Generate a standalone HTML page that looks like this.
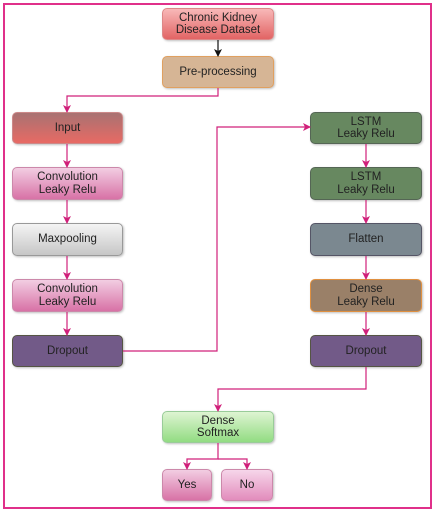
<!DOCTYPE html><html><head><style>
body{margin:0;width:433px;height:511px;background:#fff;position:relative;font-family:"Liberation Sans",sans-serif;overflow:hidden}
.b{position:absolute;box-sizing:border-box;border-radius:5px;border:1px solid #999;display:flex;align-items:center;justify-content:center;text-align:center;font-size:11.5px;line-height:12.5px;color:#222;box-shadow:1px 1px 2px rgba(0,0,0,.25)}
</style></head><body>
<div style="position:absolute;left:3px;top:3px;width:425px;height:502px;border:2px solid #e0308a"></div>
<div class="b" style="left:162px;top:8px;width:112px;height:32px;background:linear-gradient(#f8b8b8,#e26464);border-color:#d88">Chronic Kidney<br>Disease Dataset</div>
<div class="b" style="left:162px;top:56px;width:112px;height:32px;background:#d6b595;border-color:#e0a060">Pre-processing</div>
<div class="b" style="left:12px;top:112px;width:111px;height:32px;background:linear-gradient(#a87272,#e86a64);border-color:#c88">Input</div>
<div class="b" style="left:12px;top:167px;width:111px;height:33px;background:linear-gradient(#f2cde2,#d872a6);border-color:#c8a">Convolution<br>Leaky Relu</div>
<div class="b" style="left:12px;top:223px;width:111px;height:33px;background:linear-gradient(#f4f4f4,#c6c6c6)">Maxpooling</div>
<div class="b" style="left:12px;top:279px;width:111px;height:33px;background:linear-gradient(#f2cde2,#d872a6);border-color:#c8a">Convolution<br>Leaky Relu</div>
<div class="b" style="left:12px;top:335px;width:111px;height:32px;background:#725a88;border-color:#554">Dropout</div>
<div class="b" style="left:310px;top:112px;width:112px;height:32px;background:#678860;border-color:#565">LSTM<br>Leaky Relu</div>
<div class="b" style="left:310px;top:167px;width:112px;height:33px;background:#678860;border-color:#565">LSTM<br>Leaky Relu</div>
<div class="b" style="left:310px;top:223px;width:112px;height:33px;background:#7b8890;border-color:#556">Flatten</div>
<div class="b" style="left:310px;top:279px;width:112px;height:33px;background:#9a8068;border-color:#e09040">Dense<br>Leaky Relu</div>
<div class="b" style="left:310px;top:335px;width:112px;height:32px;background:#725a88;border-color:#554">Dropout</div>
<div class="b" style="left:162px;top:411px;width:112px;height:32px;background:linear-gradient(#def4d2,#92dc82);border-color:#9c9">Dense<br>Softmax</div>
<div class="b" style="left:162px;top:469px;width:50px;height:32px;background:linear-gradient(#f2cde2,#d872a6);border-color:#c8a">Yes</div>
<div class="b" style="left:221px;top:469px;width:52px;height:32px;background:linear-gradient(#f6d6ea,#e28cbc);border-color:#c8a">No</div>
<svg width="433" height="511" style="position:absolute;left:0;top:0">
<defs><marker id="a" markerWidth="8" markerHeight="8" refX="7" refY="4" orient="auto" markerUnits="userSpaceOnUse"><path d="M0,0L8,4L0,8L2,4z" fill="#d0207a"/></marker>
<marker id="k" markerWidth="8" markerHeight="8" refX="7" refY="4" orient="auto" markerUnits="userSpaceOnUse"><path d="M0,0L8,4L0,8L2,4z" fill="#111"/></marker></defs>
<g fill="none" stroke="#d0207a" stroke-width="1.2">
<path d="M218 40V56" stroke="#111" marker-end="url(#k)"/>
<path d="M218 88V96H67V112" marker-end="url(#a)"/>
<path d="M67 144V167" marker-end="url(#a)"/>
<path d="M67 200V223" marker-end="url(#a)"/>
<path d="M67 256V279" marker-end="url(#a)"/>
<path d="M67 312V335" marker-end="url(#a)"/>
<path d="M123 351H217V127H310" marker-end="url(#a)"/>
<path d="M366 144V167" marker-end="url(#a)"/>
<path d="M366 200V223" marker-end="url(#a)"/>
<path d="M366 256V279" marker-end="url(#a)"/>
<path d="M366 312V335" marker-end="url(#a)"/>
<path d="M366 367V389H218V411" marker-end="url(#a)"/>
<path d="M218 443V459H187V469" marker-end="url(#a)"/>
<path d="M218 459H247V469" marker-end="url(#a)"/>
</g></svg>
</body></html>
